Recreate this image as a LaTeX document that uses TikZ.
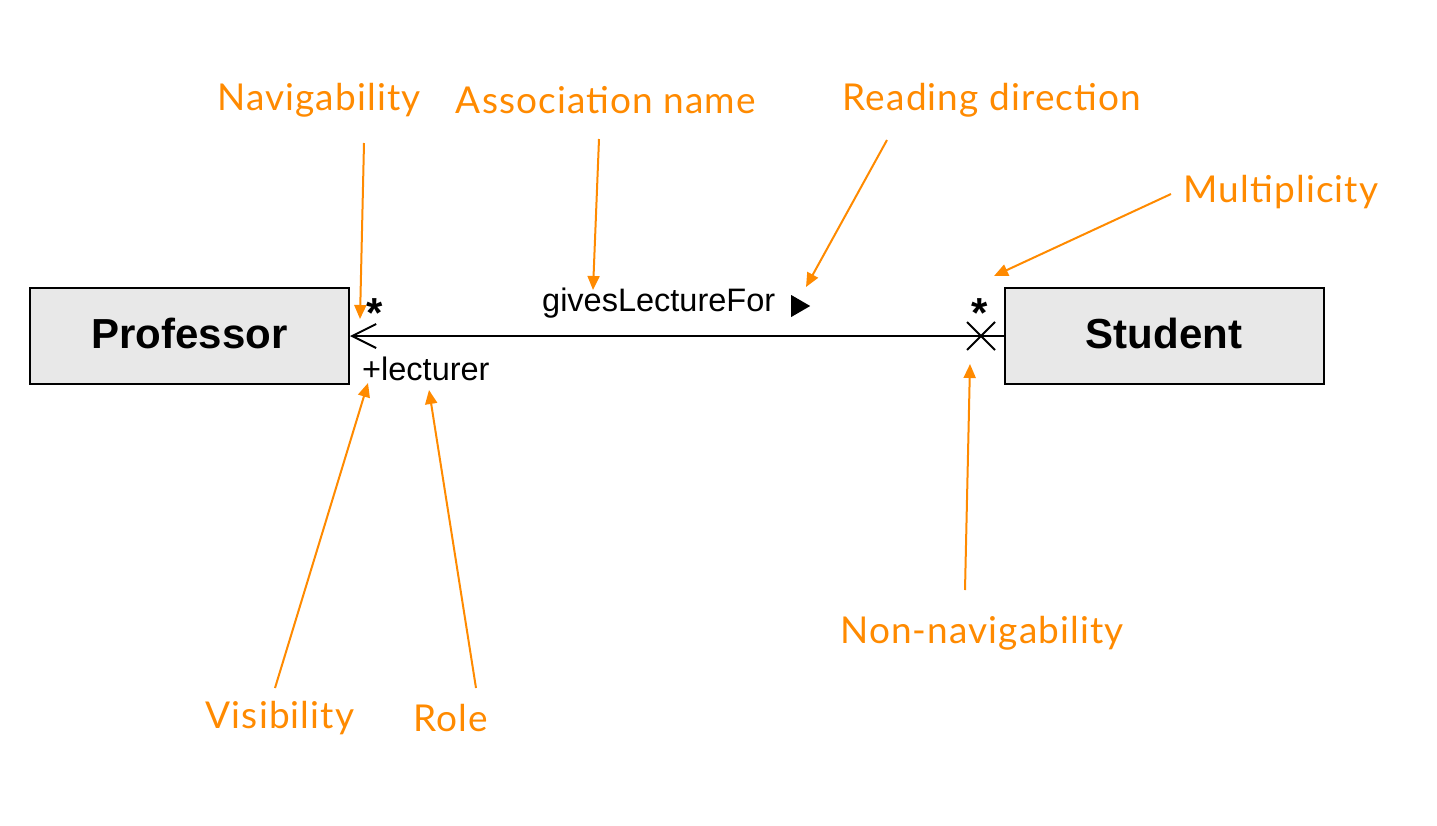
\documentclass[tikz,border=0pt]{standalone}
\usepackage{fontspec}
\setmainfont{Liberation Sans}
\newfontfamily\labfont[LetterSpace=3]{Lato}
\usetikzlibrary{arrows.meta}
\definecolor{anno}{HTML}{FF8A00}
\definecolor{boxfill}{HTML}{E8E8E8}
\tikzset{
  classbox/.style={draw=black, fill=boxfill, line width=2pt, minimum width=319pt, minimum height=96pt, inner sep=0pt, font=\fontsize{42}{46}\selectfont\bfseries},
  classname/.style={font=\fontsize{42}{46}\selectfont\bfseries, inner sep=0pt},
  annolabel/.style={text=anno, font=\labfont\fontsize{37}{40}\selectfont, inner sep=0pt},
  annoarrow/.style={draw=anno, line width=2pt, -{Triangle[length=14pt,width=12pt]}},
  umltext/.style={font=\fontsize{32.5}{36}\selectfont, inner sep=0pt},
  multtext/.style={font=\fontsize{42}{42}\selectfont\bfseries, inner sep=0pt},
}
\begin{document}
\begin{tikzpicture}[x=1pt,y=-1pt]
\useasboundingbox (0,0) rectangle (1437,825);
\node[classbox] (prof) at (189.5,336) {};
\node[classbox] (stud) at (1164,336) {};
\node[classname] (profname) at (189.5,333) {Professor};
\node[classname] (studname) at (1164,333) {Student};
\coordinate (xmark) at (981,336);
\draw[line width=2pt, -{Straight Barb[length=24pt,width=24pt,line width=2pt]}] (stud.west) -- (prof.east);
\draw[line width=2pt] (xmark) ++(-14,-14) -- ++(28,28) (xmark) ++(-14,14) -- ++(28,-28);
\node[multtext] (mprof) at (375,313) {*};
\node[multtext] (mstud) at (980,313) {*};
\node[umltext, anchor=west] (role) at (362,369) {+lecturer};
\node[umltext, anchor=west] (assoc) at (542,303) {givesLectureFor};
\node[inner sep=0pt, anchor=west] (readdir) at (791,306) {\tikz[x=1pt,y=1pt]\fill (0,0) -- (19,-11) -- (0,-22) -- cycle;};
\node[annolabel] (lnav) at (319,100) {Navigability};
\node[annolabel] (lassoc) at (606,100) {Association name};
\node[annolabel] (lread) at (992,100) {Reading direction};
\node[annolabel] (lmult) at (1281,192) {Multiplicity};
\node[annolabel] (lnonnav) at (982,633) {Non-navigability};
\node[annolabel] (lvis) at (280,718) {Visibility};
\node[annolabel] (lrole) at (451,718) {Role};
\coordinate (s1) at (364,143); \coordinate (e1) at (360,319);
\coordinate (s2) at (599,139); \coordinate (e2) at (593,290);
\coordinate (s3) at (887,140); \coordinate (e3) at (806,287);
\coordinate (s4) at (1171,194); \coordinate (e4) at (994,276);
\coordinate (s5) at (965,590); \coordinate (e5) at (970,364);
\coordinate (s6) at (275,688); \coordinate (e6) at (368,383);
\coordinate (s7) at (476,688); \coordinate (e7) at (429,390);
\draw[annoarrow] (s1) -- (e1);
\draw[annoarrow] (s2) -- (e2);
\draw[annoarrow] (s3) -- (e3);
\draw[annoarrow] (s4) -- (e4);
\draw[annoarrow] (s5) -- (e5);
\draw[annoarrow] (s6) -- (e6);
\draw[annoarrow] (s7) -- (e7);
\end{tikzpicture}
\end{document}
